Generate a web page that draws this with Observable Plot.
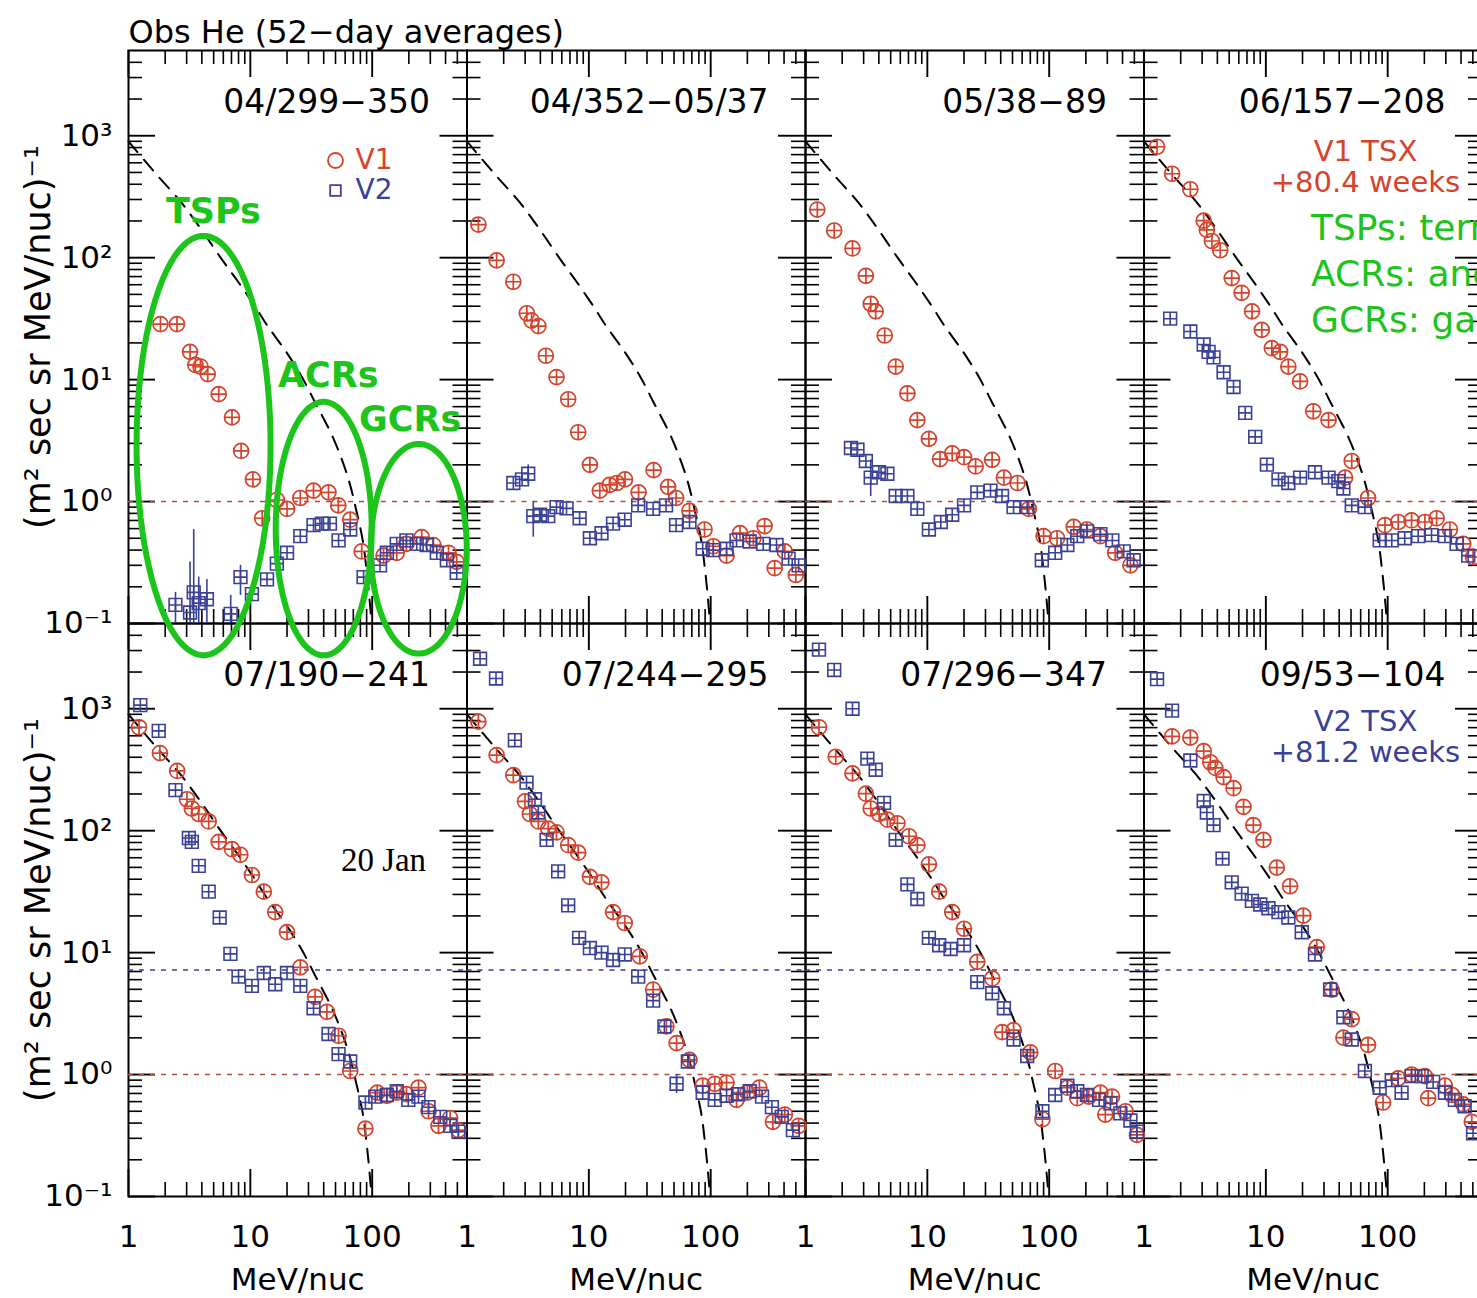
<!DOCTYPE html>
<html><head><meta charset="utf-8">
<script src="https://cdn.jsdelivr.net/npm/d3@7"></script>
<script src="https://cdn.jsdelivr.net/npm/@observablehq/plot@0.6"></script>
<style>
html,body{margin:0;padding:0;background:#fff;overflow:hidden;}
#wrap{width:1477px;height:1298px;overflow:hidden;position:relative;background:#fff;}
</style></head><body><div id="wrap"></div>
<script>
// ---------- labels ----------
const titleText = "Obs He (52\u2212day averages)";
const panelLabels = ["04/299\u2212350","04/352\u221205/37","05/38\u221289","06/157\u2212208",
                     "07/190\u2212241","07/244\u2212295","07/296\u2212347","09/53\u2212104"];
const xTickLabels = [1, 10, 100];
const yTickValues = [0.1, 1, 10, 100, 1000];
const yTickLabels = ["10\u207B\u00B9","10\u2070","10\u00B9","10\u00B2","10\u00B3"];
const xMinorTicks = [2,3,4,5,6,7,8,9,20,30,40,50,60,70,80,90,200,300,400,500];
const xMajorTicks = [1,10,100];
const yMinorTicks = [0.2,0.3,0.4,0.5,0.6,0.7,0.8,0.9,2,3,4,5,6,7,8,9,20,30,40,50,60,70,80,90,
                     200,300,400,500,600,700,800,900,2000,3000,4000];
const yMajorTicks = [0.1,1,10,100,1000];

// ---------- data: [energy MeV/nuc, flux] ----------
const p1v1 = [[1.83,28.5],[2.5,28.5],[3.2,16.9],[3.54,13.2],[3.9,12.8],[4.47,11.1],[5.5,7.6],[7.07,4.9],[8.4,2.6],[10.5,1.52],[12.5,0.73],[16.5,1.03],[20,0.87],[25.7,1.07],[33,1.23],[43.8,1.19],[52.7,0.93],[66,0.71],[82,0.39],[124,0.36],[159,0.38],[191,0.45],[255,0.51],[318,0.44],[423,0.38],[494,0.32]];
const p1v2 = [[2.43,0.142],[3.2,0.123],[3.43,0.18],[3.77,0.147],[4.4,0.158],[6.9,0.12],[8.3,0.24],[10.3,0.174],[13.7,0.23],[16.5,0.31],[20,0.38],[25.7,0.52],[33,0.64],[38.6,0.66],[45,0.66],[53,0.48],[66,0.59],[85,0.24],[116,0.30],[132,0.38],[159,0.45],[191,0.48],[232,0.45],[280,0.44],[339,0.38],[410,0.33],[494,0.26]];
const p2v1 = [[1.24,187],[1.75,95],[2.4,63.5],[3.1,35],[3.39,30.5],[3.85,27.5],[4.44,15.7],[5.43,10.5],[6.77,6.9],[8.18,3.7],[10.2,2.0],[12.3,1.23],[14.8,1.37],[17,1.42],[19.8,1.52],[25.6,1.19],[34,1.81],[44.7,1.32],[52,1.07],[67,0.84],[89,0.59],[105,0.43],[135,0.36],[174,0.55],[224,0.5],[277,0.63],[335,0.285],[406,0.39],[500,0.25]];
const p2v2 = [[2.4,1.42],[2.83,1.52],[3.18,1.69],[3.5,0.76],[3.98,0.78],[4.64,0.76],[5.43,0.90],[6.56,0.88],[8.4,0.73],[10.2,0.5],[12.7,0.55],[15.8,0.66],[19.7,0.71],[25.4,0.93],[33.7,0.87],[43,0.93],[52,0.64],[67,0.68],[86,0.41],[105,0.4],[135,0.41],[163,0.48],[209,0.47],[270,0.45],[347,0.44],[436,0.34],[527,0.30]];
const p3v1 = [[1.25,248],[1.72,167],[2.43,119],[3.13,71],[3.43,41.8],[3.77,36.3],[4.47,23],[5.5,12.8],[6.86,7.7],[8.28,4.65],[10.3,3.27],[12.7,2.23],[16,2.48],[20,2.31],[24.9,1.94],[34,2.2],[42.5,1.57],[55,1.42],[68,0.87],[90,0.52],[116,0.5],[159,0.62],[204,0.59],[263,0.52],[348,0.38],[464,0.30]];
const p3v2 = [[2.36,2.75],[2.67,2.66],[3.13,2.15],[3.43,1.57],[4.0,1.74],[4.7,1.69],[5.5,1.11],[6.86,1.11],[8.28,0.87],[10.3,0.59],[12.9,0.68],[16,0.78],[20,0.93],[25.7,1.19],[33,1.23],[41,1.11],[51,0.90],[66,0.90],[87,0.33],[112,0.38],[141,0.44],[170,0.52],[204,0.57],[263,0.54],[330,0.48],[409,0.39],[494,0.33]];
const p4v1 = [[1.28,812],[1.7,488],[2.4,364],[3.09,201],[3.28,169],[3.61,137],[4.22,115],[5.25,68],[6.33,51.5],[7.7,36.3],[9.26,25.6],[11.2,18.1],[13.1,16.9],[15.3,12.8],[19.1,9.66],[24.5,5.5],[32.7,4.65],[44.7,1.57],[50.7,2.15],[69,1.07],[95,0.64],[122,0.68],[157,0.7],[202,0.68],[252,0.73],[324,0.59],[417,0.45],[502,0.35]];
const p4v2 = [[1.64,31.6],[2.4,24.8],[3.09,19.4],[3.39,16.9],[3.72,15.2],[4.5,11.5],[5.43,8.7],[6.77,5.34],[8.18,3.39],[10.2,2.01],[12.7,1.52],[15.3,1.42],[19.1,1.57],[25.3,1.74],[32.7,1.57],[39.4,1.47],[43.3,1.28],[50.7,0.93],[65,0.90],[86,0.48],[108,0.48],[138,0.50],[178,0.52],[229,0.53],[295,0.52],[368,0.45],[458,0.36]];
const p5v1 = [[1.22,705],[1.81,433],[2.51,309],[3.02,181],[3.31,152],[3.77,137],[4.55,119],[5.5,81],[7.07,70.5],[8.28,63.5],[10.3,43.3],[12.9,31.6],[16,21.5],[20,14.7],[25.7,7.57],[34,4.33],[42.5,3.27],[53,2.08],[66,1.07],[88,0.36],[110,0.71],[132,0.67],[159,0.71],[191,0.69],[240,0.78],[290,0.5],[350,0.38],[436,0.44],[510,0.35]];
const p5v2 = [[1.25,1070],[1.77,658],[2.43,215],[3.13,87],[3.31,81],[3.77,51.5],[4.55,31.6],[5.6,19.4],[6.86,9.77],[8.0,6.35],[10.3,5.34],[12.9,6.8],[16,5.5],[20,6.8],[25.7,5.34],[33,3.5],[43.8,2.15],[53,1.47],[66,1.28],[88,0.59],[106,0.66],[132,0.68],[159,0.73],[198,0.62],[240,0.66],[290,0.54],[362,0.45],[436,0.38],[510,0.34]];
const p6v1 = [[1.24,783],[1.75,417],[2.4,285],[2.99,174],[3.28,137],[3.85,119],[4.64,104],[5.43,97],[6.77,76],[8.18,66],[10.2,41.8],[12.7,37.7],[15.8,21.5],[19.7,17.5],[26.2,9.33],[33.7,4.98],[43.3,2.48],[52.5,1.81],[67,1.32],[86,0.81],[108,0.84],[135,0.86],[163,0.62],[200,0.71],[251,0.78],[324,0.41],[406,0.47],[527,0.38]];
const p6v2 = [[1.28,2570],[1.73,1770],[2.47,552],[3.08,248],[3.61,181],[3.85,141],[4.5,84],[5.6,46.4],[6.77,24.4],[8.32,13.2],[10.2,10.9],[12.7,10],[15.8,8.7],[19.7,9.66],[25.4,6.35],[33.7,4.04],[41.7,2.48],[52.5,0.84],[65,1.28],[86,0.71],[108,0.62],[135,0.67],[168,0.69],[209,0.73],[264,0.66],[318,0.54],[383,0.45],[473,0.35]];
const p7v1 = [[1.29,705],[1.77,404],[2.43,295],[3.13,201],[3.43,152],[4.02,137],[4.7,123],[5.68,115],[7.07,90],[8.28,76],[10.3,53],[12.5,31.6],[16,21.5],[20,15.7],[25.7,8.4],[34.1,6.14],[41.2,2.23],[51,2.31],[70,1.52],[88,0.43],[112,1.07],[141,0.78],[170,0.64],[211,0.66],[263,0.71],[289,0.47],[328,0.66],[423,0.5],[525,0.32]];
const p7v2 = [[1.29,3050],[1.72,2080],[2.43,1000],[3.22,390],[3.77,316],[4.41,169],[5.5,84],[6.86,36.3],[8.28,27.5],[10.3,13.2],[12.5,11.5],[15.5,10.7],[20,11.5],[25.7,5.73],[34.1,4.64],[42.5,3.5],[51,1.94],[66,1.42],[88,0.50],[112,0.68],[141,0.81],[170,0.73],[204,0.68],[257,0.62],[318,0.58],[384,0.48],[464,0.42],[525,0.34]];
const p8v1 = [[1.7,593],[2.4,580],[3.09,449],[3.5,364],[3.85,327],[4.5,275],[5.43,223],[6.56,157],[7.9,111],[9.56,84],[12.3,49.8],[15.8,35],[20.3,20.1],[26.2,11.1],[34.7,4.98],[43.3,2.01],[50.7,2.85],[69,1.75],[91.6,0.59],[122,0.93],[157,1.0],[202,0.97],[215,0.64],[295,0.81],[337,0.68],[417,0.57],[490,0.41]];
const p8v2 = [[1.28,1750],[1.7,966],[2.4,376],[3.09,175],[3.28,141],[3.72,111],[4.41,59],[5.25,37.7],[6.33,30.5],[7.68,26.6],[9.0,24.8],[10.5,23.1],[12.7,21.5],[15.3,19.4],[19.7,14.7],[25.3,9.66],[33.7,4.98],[43.3,2.95],[50.7,1.94],[65,1.07],[86,0.78],[108,0.90],[130,0.71],[157,0.97],[190,0.97],[236,0.87],[295,0.71],[356,0.62],[428,0.55],[502,0.33]];
const v1Panels = [p1v1,p2v1,p3v1,p4v1,p5v1,p6v1,p7v1,p8v1];
const v2Panels = [p1v2,p2v2,p3v2,p4v2,p5v2,p6v2,p7v2,p8v2];

// V2 error bars: [panel index, energy, low, high]
const v2Errors = [[0,2.43,0.1,0.18],[0,3.2,0.1,0.32],[0,3.43,0.1,0.59],[0,3.77,0.1,0.24],[0,4.4,0.1,0.23],[0,6.9,0.1,0.17],[0,8.3,0.17,0.3],
                  [1,3.18,1.4,2.0],[1,3.5,0.51,1.0],[2,3.43,1.1,2.2],[5,52.5,0.7,1.0]];

// model spectrum (dashed): energy, flux
const modelE = [1,1.6,2.7,3.9,5.7,7.8,10.9,13.7,20,26.5,34,48,63,74,84,89,93,99];
const modelF = [900,515,285,174,100,65,40,28,16.5,10.5,6.5,3.3,1.6,0.85,0.47,0.3,0.2,0.1];

// reference levels
const v1RefLevel = 1;     // red dotted, all panels
const v2RefLevel = 7.2;   // blue dotted, bottom row

// green annotation ellipses in panel 1: centre (E, flux), radii in decades
const ellipseCx = [4.13, 40, 241];
const ellipseCy = [2.88, 0.60, 0.41];
const ellipseRx = [0.55, 0.394, 0.394];
const ellipseRy = [1.72, 1.04, 0.86];
const ellipseLabels = ["TSPs","ACRs","GCRs"];
const ellipseLabelE = [4.98, 43.6, 205];
const ellipseLabelF = [238, 10.8, 4.7];
const greenNotes = ["TSPs: termination shock particles","ACRs: anomalous cosmic rays","GCRs: galactic cosmic rays"];
const tsxV1 = ["V1 TSX", "+80.4 weeks"];
const tsxV2 = ["V2 TSX", "+81.2 weeks"];

// ---------- styles ----------
const RED = "#d5432c", BLUE = "#3a4196", GREEN = "#1cc41c";
const W = 1492, H = 1298, mL = 128, mT = 50, mR = 10, mB = 102;
const panelW = (W - mL - mR) / 4, panelH = (H - mT - mB) / 2;
const minorLen = 14, majorLen = 27;

const circlePlus = {draw(c, size) { const r = Math.sqrt(size / Math.PI);
  c.moveTo(r, 0); c.arc(0, 0, r, 0, 2 * Math.PI); c.moveTo(-r, 0); c.lineTo(r, 0); c.moveTo(0, -r); c.lineTo(0, r); }};
const squarePlus = {draw(c, size) { const s = Math.sqrt(size) / 2;
  c.moveTo(-s, -s); c.lineTo(s, -s); c.lineTo(s, s); c.lineTo(-s, s); c.closePath();
  c.moveTo(-s, 0); c.lineTo(s, 0); c.moveTo(0, -s); c.lineTo(0, s); }};

const fxOf = i => i % 4, fyOf = i => Math.floor(i / 4);
function rows(panels) { const out = []; panels.forEach((a, i) => a.forEach(([E, F]) => out.push({E, F, fx: fxOf(i), fy: fyOf(i)}))); return out; }
const v1Rows = rows(v1Panels), v2Rows = rows(v2Panels);
const errRows = v2Errors.map(([i, E, lo, hi]) => ({E, lo, hi, fx: fxOf(i), fy: fyOf(i)}));
const model = modelE.map((E, i) => ({E, F: modelF[i]}));
const labelRows = panelLabels.map((label, i) => ({label, fx: fxOf(i), fy: fyOf(i)}));
const bottomCols = [0,1,2,3].map(fx => ({fx, fy: 1, label: "MeV/nuc"}));
const leftRows = [0,1].map(fy => ({fx: 0, fy, label: "(m\u00B2 sec sr MeV/nuc)\u207B\u00B9"}));
const blueRefRows = [0,1,2,3].map(fx => ({fx, fy: 1, F: v2RefLevel}));
const ellipsePts = [];
ellipseCx.forEach((cx, k) => { for (let j = 0; j <= 90; j++) { const t = j / 90 * 2 * Math.PI;
  ellipsePts.push({k, E: cx * Math.pow(10, ellipseRx[k] * Math.cos(t)), F: ellipseCy[k] * Math.pow(10, ellipseRy[k] * Math.sin(t)), fx: 0, fy: 0}); }});
const ellipseText = ellipseLabels.map((label, k) => ({label, E: ellipseLabelE[k], F: ellipseLabelF[k], fx: 0, fy: 0}));
const yFmt = d => yTickLabels[yTickValues.indexOf(d)];

function note(text, fx, fy, opts) {
  return Plot.text([{fx, fy, label: text}], {fx: "fx", fy: "fy", text: "label", lineAnchor: "middle", ...opts});
}

const plot = Plot.plot({
  width: W, height: H, marginLeft: mL, marginTop: mT, marginRight: mR, marginBottom: mB,
  style: {fontFamily: "DejaVu Sans", background: "white", maxWidth: "none", overflow: "visible"},
  fx: {domain: [0,1,2,3], padding: 0, axis: null, round: false},
  fy: {domain: [0,1], padding: 0, axis: null, round: false},
  x: {type: "log", domain: [1, 600]},
  y: {type: "log", domain: [0.1, 5000]},
  marks: [
    // frame ticks (all four sides, inward)
    Plot.ruleX(xMinorTicks, {x: d => d, insetTop: panelH - minorLen, stroke: "black", strokeWidth: 1.6}),
    Plot.ruleX(xMinorTicks, {x: d => d, insetBottom: panelH - minorLen, stroke: "black", strokeWidth: 1.6}),
    Plot.ruleX(xMajorTicks, {x: d => d, insetTop: panelH - majorLen, stroke: "black", strokeWidth: 1.9}),
    Plot.ruleX(xMajorTicks, {x: d => d, insetBottom: panelH - majorLen, stroke: "black", strokeWidth: 1.9}),
    Plot.ruleY(yMinorTicks, {y: d => d, insetRight: panelW - minorLen, stroke: "black", strokeWidth: 1.6}),
    Plot.ruleY(yMinorTicks, {y: d => d, insetLeft: panelW - minorLen, stroke: "black", strokeWidth: 1.6}),
    Plot.ruleY(yMajorTicks, {y: d => d, insetRight: panelW - majorLen, stroke: "black", strokeWidth: 1.9}),
    Plot.ruleY(yMajorTicks, {y: d => d, insetLeft: panelW - majorLen, stroke: "black", strokeWidth: 1.9}),
    Plot.frame({stroke: "black", strokeWidth: 2}),
    // reference lines
    Plot.ruleY([v1RefLevel], {y: d => d, stroke: "#b44a3c", strokeWidth: 1.6, strokeDasharray: "5,6"}),
    Plot.ruleY(blueRefRows, {y: "F", fx: "fx", fy: "fy", stroke: "#3b3f8c", strokeWidth: 1.6, strokeDasharray: "5,6"}),
    // model curve
    Plot.line(model, {x: "E", y: "F", stroke: "black", strokeWidth: 2, strokeDasharray: "14,10", curve: "catmull-rom"}),
    // data
    Plot.dot(v1Rows, {x: "E", y: "F", fx: "fx", fy: "fy", symbol: circlePlus, r: 7.5, stroke: RED, fill: "none", strokeWidth: 1.7}),
    Plot.ruleX(errRows, {x: "E", y1: "lo", y2: "hi", fx: "fx", fy: "fy", stroke: BLUE, strokeWidth: 1.6}),
    Plot.dot(v2Rows, {x: "E", y: "F", fx: "fx", fy: "fy", symbol: squarePlus, r: 7.2, stroke: BLUE, fill: "none", strokeWidth: 1.6}),
    // axes
    Plot.axisY({anchor: "left", ticks: yTickValues, tickFormat: yFmt, tickSize: 0, tickPadding: 16, fontSize: 31}),
    Plot.axisX({anchor: "bottom", ticks: xTickLabels, tickFormat: d => String(d), tickSize: 0, tickPadding: 28, fontSize: 31, label: null}),
    Plot.text(bottomCols, {fx: "fx", fy: "fy", text: "label", frameAnchor: "bottom", dy: 84, fontSize: 31, lineAnchor: "middle"}),
    Plot.text(leftRows, {fx: "fx", fy: "fy", text: "label", frameAnchor: "left", dx: -90, rotate: -90, fontSize: 35, textAnchor: "middle", lineAnchor: "middle"}),
    note(titleText, 0, 0, {frameAnchor: "top-left", dy: -18, textAnchor: "start", fontSize: 32}),
    // panel labels
    Plot.text(labelRows, {fx: "fx", fy: "fy", text: "label", frameAnchor: "top-right", dx: -37, dy: 52, textAnchor: "end", lineAnchor: "middle", fontSize: 33}),
    // legend
    Plot.dot([{fx: 0, fy: 0}], {fx: "fx", fy: "fy", frameAnchor: "top-left", dx: 207, dy: 110, r: 7.5, symbol: "circle", stroke: RED, strokeWidth: 1.8}),
    Plot.dot([{fx: 0, fy: 0}], {fx: "fx", fy: "fy", frameAnchor: "top-left", dx: 207, dy: 140, r: 6, symbol: "square", stroke: BLUE, strokeWidth: 1.8}),
    note("V1", 0, 0, {frameAnchor: "top-left", dx: 227, dy: 110, textAnchor: "start", fontSize: 28, fill: RED}),
    note("V2", 0, 0, {frameAnchor: "top-left", dx: 227, dy: 140, textAnchor: "start", fontSize: 28, fill: BLUE}),
    note(tsxV1[0], 3, 0, {frameAnchor: "top-right", dx: -117, dy: 101, fontSize: 29, fill: RED, textAnchor: "middle"}),
    note(tsxV1[1], 3, 0, {frameAnchor: "top-right", dx: -117, dy: 132, fontSize: 29, fill: RED, textAnchor: "middle"}),
    note(tsxV2[0], 3, 1, {frameAnchor: "top-right", dx: -117, dy: 98, fontSize: 29, fill: BLUE, textAnchor: "middle"}),
    note(tsxV2[1], 3, 1, {frameAnchor: "top-right", dx: -117, dy: 129, fontSize: 29, fill: BLUE, textAnchor: "middle"}),
    note("20 Jan", 0, 1, {frameAnchor: "top-left", dx: 255, dy: 237, fontSize: 33, fontFamily: "Liberation Serif", textAnchor: "middle"}),
    // green annotations
    Plot.line(ellipsePts, {x: "E", y: "F", z: "k", fx: "fx", fy: "fy", stroke: GREEN, strokeWidth: 6, curve: "linear"}),
    Plot.text(ellipseText, {x: "E", y: "F", fx: "fx", fy: "fy", text: "label", fill: GREEN, fontSize: 35, fontWeight: "bold", lineAnchor: "middle"}),
    ...greenNotes.map((t, k) => note(t, 3, 0, {frameAnchor: "top-left", dx: 167, dy: 178 + 46 * k, fill: GREEN, fontSize: 36, textAnchor: "start"}))
  ]
});
document.getElementById("wrap").appendChild(plot);
</script></body></html>
